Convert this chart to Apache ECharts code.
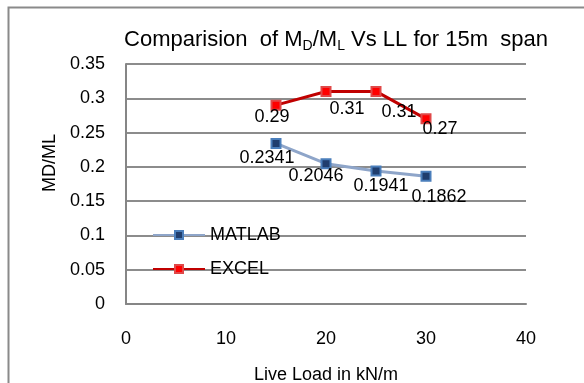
<!DOCTYPE html>
<html>
<head>
<meta charset="utf-8">
<script src="https://cdn.jsdelivr.net/npm/echarts@6/dist/echarts.min.js"></script>
<style>
  html, body { margin: 0; padding: 0; background: #fff; }
  #chart { width: 584px; height: 383px; }
</style>
</head>
<body>
<div id="chart"></div>
<script>
// live load values (kN/m)
const liveLoad = [15, 20, 25, 30];
const matlabValues = [0.2341, 0.2046, 0.1941, 0.1862];
const excelValues = [0.29, 0.31, 0.31, 0.27];
const seriesNames = ["MATLAB", "EXCEL"];

// label centre offsets from each marker
const matlabLabelShift = [[-9, 15], [-10, 12], [5, 15], [13, 21]];
const excelLabelShift = [[-4, 12], [21, 18], [23, 21], [14, 10]];

const font = "Liberation Sans, Arial, sans-serif";

const toPoints = (xs, ys, shifts) =>
  xs.map((x, i) => ({
    value: [x, ys[i]],
    label: { offset: shifts[i] },
  }));

const labelStyle = {
  show: true,
  position: "inside",
  align: "center",
  verticalAlign: "middle",
  fontSize: 18,
  color: "#000",
  fontFamily: font,
  formatter: (p) => p.value[1],
};

const chart = echarts.init(document.getElementById("chart"));

chart.setOption({
  animation: false,
  textStyle: { fontFamily: font },
  graphic: [
    {
      type: "rect",
      shape: { x: 8.5, y: 7.5, width: 700, height: 500 },
      style: { fill: "none", stroke: "#8a8a8a", lineWidth: 2 },
    },
  ],
  title: {
    text: "Comparision  of M{s|D}/M{s|L} Vs LL for 15m  span",
    left: 331,
    textAlign: "center",
    top: 22,
    textStyle: {
      fontFamily: font,
      fontWeight: "normal",
      fontSize: 22,
      color: "#000",
      rich: {
        s: { fontSize: 14, padding: [12, 0, 0, 0], color: "#000", fontFamily: font },
      },
    },
  },
  legend: {
    orient: "vertical",
    left: 152,
    top: 226,
    padding: 0,
    itemWidth: 52,
    itemHeight: 10,
    itemGap: 16,
    data: seriesNames,
    textStyle: { fontFamily: font, fontSize: 18, color: "#000", padding: [0, 0, 0, 0] },
  },
  grid: { left: 126, right: 58, top: 64, bottom: 79, outerBoundsMode: "none" },
  xAxis: {
    type: "value",
    min: 0,
    max: 40,
    interval: 10,
    name: "Live Load in kN/m",
    nameLocation: "middle",
    nameGap: 62,
    nameTextStyle: { fontFamily: font, fontSize: 18, color: "#000" },
    axisLine: { show: true, lineStyle: { color: "#868686", width: 2 } },
    axisTick: { show: false },
    axisLabel: { margin: 26, fontSize: 18, color: "#000", fontFamily: font },
    splitLine: { show: false },
  },
  yAxis: {
    type: "value",
    min: 0,
    max: 0.35,
    interval: 0.05,
    name: "MD/ML",
    nameLocation: "middle",
    nameGap: 67,
    nameTextStyle: { fontFamily: font, fontSize: 18, color: "#000", padding: [0, 0, 0, 42] },
    axisLine: { show: true, lineStyle: { color: "#868686", width: 2 } },
    axisTick: { show: false },
    axisLabel: {
      margin: 21,
      fontSize: 18,
      color: "#000",
      fontFamily: font,
      formatter: (v) => String(+v.toFixed(2)),
    },
    splitLine: { lineStyle: { color: "#8c8c8c", width: 2 } },
  },
  series: [
    {
      name: seriesNames[0],
      type: "line",
      data: toPoints(liveLoad, matlabValues, matlabLabelShift),
      symbol: "rect",
      symbolSize: 9,
      lineStyle: { color: "#8ea5c9", width: 3 },
      itemStyle: { color: "#1f3d6d", borderColor: "#4a7ebb", borderWidth: 2 },
      label: labelStyle,
    },
    {
      name: seriesNames[1],
      type: "line",
      data: toPoints(liveLoad, excelValues, excelLabelShift),
      symbol: "rect",
      symbolSize: 9,
      lineStyle: { color: "#c00000", width: 3 },
      itemStyle: { color: "#ff0000", borderColor: "#e04848", borderWidth: 2 },
      label: labelStyle,
    },
  ],
});
</script>
</body>
</html>
